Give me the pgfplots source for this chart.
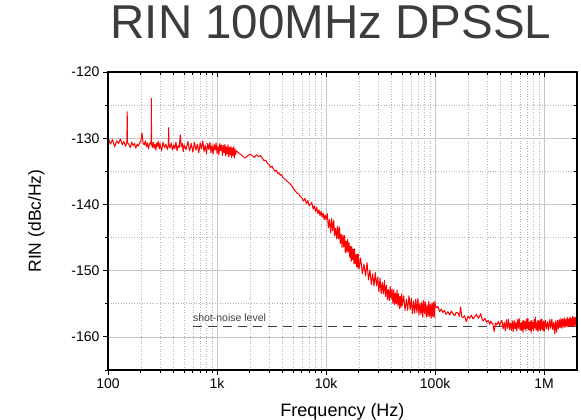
\documentclass[border=0pt]{standalone}
\usepackage{fontspec}
\setmainfont{Liberation Sans}
\usepackage{pgfplots}
\usepackage{pgfplotstable}
\pgfplotsset{compat=1.18}
\definecolor{titlegray}{HTML}{3C3C3C}
\definecolor{gridmaj}{HTML}{C8C8C8}
\definecolor{gridmin}{HTML}{B4B4B4}
\definecolor{dashgray}{HTML}{404040}

\pgfplotstableread{
f db
100 -129.8
105 -130.9
110 -130.2
115 -131.3
120 -130.4
125 -130.8
130 -130.1
135 -131.0
140 -130.5
145 -131.2
149 -130.6
150 -126.0
151 -130.7
155 -130.9
160 -131.4
165 -130.6
170 -131.1
175 -130.8
180 -131.5
185 -130.9
190 -131.2
195 -130.7
200 -130.5
205 -129.2
210 -130.8
215 -131.0
220 -130.4
225 -131.3
230 -130.7
235 -131.6
240 -130.9
245 -130.6
249 -131.0
250 -124.0
251 -130.8
255 -131.4
260 -130.6
265 -131.5
270 -130.9
275 -131.8
280 -130.7
285 -131.2
290 -130.5
295 -131.6
300 -130.8
310 -131.9
320 -130.6
330 -131.4
340 -130.9
350 -131.7
358 -131.0
360 -128.4
362 -130.9
370 -131.5
380 -130.7
390 -131.8
400 -131.0
410 -131.6
420 -130.6
430 -131.9
440 -131.1
450 -131.4
460 -129.5
470 -131.3
480 -130.8
490 -132.0
500 -131.0
520 -131.7
540 -130.5
560 -131.9
580 -130.8
600 -132.1
620 -130.6
640 -131.8
660 -130.9
680 -132.2
700 -130.7
720 -131.6
740 -130.4
760 -132.0
780 -131.1
800 -132.3
820 -130.8
840 -131.7
860 -130.6
880 -132.2
900 -131.0
920 -132.4
940 -130.9
960 -131.8
980 -130.7
1000 -132.3
1020 -131.2
1040 -132.5
1060 -130.8
1080 -131.9
1100 -131.0
1120 -132.6
1140 -131.1
1160 -132.2
1180 -130.9
1200 -132.7
1220 -131.3
1240 -132.4
1260 -131.0
1280 -132.8
1300 -131.4
1320 -132.5
1340 -131.2
1360 -132.9
1380 -131.5
1400 -132.6
1420 -131.3
1440 -133.0
1460 -131.6
1480 -132.5
1500 -131.9
1600 -132.3
1700 -132.6
1800 -133.0
1900 -132.7
2000 -132.4
2100 -132.6
2200 -132.9
2300 -132.5
2400 -132.8
2500 -132.6
2600 -133.0
2700 -133.4
2800 -133.3
2900 -133.8
3000 -134.0
3100 -134.4
3200 -134.2
3300 -134.7
3400 -135.0
3500 -134.8
3600 -135.3
3700 -135.2
3800 -135.6
3900 -135.5
4000 -135.9
4200 -136.2
4400 -136.5
4600 -136.8
4800 -137.1
5000 -137.6
5200 -137.9
5400 -138.3
5600 -138.4
5800 -138.8
6000 -139.0
6200 -139.5
6400 -139.1
6600 -139.9
6800 -139.4
7000 -140.2
7200 -140.0
7400 -139.7
7600 -140.7
7800 -140.2
8000 -141.1
8200 -140.4
8400 -141.4
8600 -140.8
8800 -141.7
9000 -141.0
9200 -141.9
9400 -141.3
9600 -142.3
9800 -141.6
10000 -142.3
10250 -141.4
10500 -143.5
10750 -142.3
11000 -144.3
11250 -142.1
11500 -144.0
11750 -142.4
12000 -144.7
12250 -143.6
12500 -145.2
12750 -143.3
13000 -145.2
13250 -143.4
13500 -145.9
13750 -144.5
14000 -146.5
14250 -144.6
14500 -146.4
14750 -144.7
15000 -147.3
15250 -145.5
15500 -147.2
15750 -145.3
16000 -147.2
16250 -145.8
16500 -148.0
16750 -146.3
17000 -148.6
17250 -146.4
17500 -148.3
17750 -146.8
18000 -149.0
18250 -146.7
18500 -148.9
18750 -147.6
19000 -149.4
19250 -147.5
19500 -149.5
19750 -147.5
20000 -149.8
20750 -148.1
21500 -150.5
22250 -149.0
23000 -150.8
23750 -148.8
24500 -151.4
25250 -149.9
26000 -152.1
26750 -150.5
27500 -152.3
28250 -150.3
29000 -152.3
29750 -151.0
30500 -153.2
31250 -151.1
32000 -153.5
32750 -151.8
33500 -153.5
34250 -151.5
35000 -153.9
35750 -152.2
36500 -154.4
37250 -152.8
38000 -154.5
38750 -152.4
39500 -154.3
40250 -152.8
41000 -155.0
41750 -152.9
42500 -155.1
43250 -153.4
44000 -155.0
44750 -152.9
45500 -155.2
46250 -153.5
47000 -155.7
47750 -153.9
48500 -155.6
49250 -153.5
50000 -155.3
51500 -153.8
53000 -156.0
54500 -154.3
56000 -156.0
57500 -153.8
59000 -155.9
60500 -154.2
62000 -156.5
63500 -154.6
65000 -156.4
66500 -154.3
68000 -156.3
69500 -154.2
71000 -156.7
72500 -154.9
74000 -156.6
75500 -154.7
77000 -157.0
78500 -154.5
80000 -156.5
81500 -154.7
83000 -157.0
84500 -155.2
86000 -156.9
87500 -154.6
89000 -156.9
90500 -155.1
92000 -157.2
93500 -154.9
95000 -156.9
96500 -154.8
98000 -157.1
99500 -154.6
100000 -155.2
103000 -155.6
106000 -155.4
110000 -156.2
114000 -155.8
118000 -156.3
122000 -156.0
126000 -156.6
131000 -156.2
136000 -156.7
141000 -156.1
146000 -156.5
151000 -156.8
156000 -156.3
162000 -156.4
167000 -156.9
171000 -155.5
176000 -157.0
180000 -157.1
186000 -156.8
193000 -157.7
200000 -156.9
207000 -157.2
215000 -156.7
223000 -157.3
231000 -156.9
239000 -156.6
250000 -157.2
262000 -156.5
269000 -157.3
276000 -157.6
286000 -157.2
296000 -157.8
306000 -157.5
317000 -158.1
323000 -157.6
329000 -157.9
338000 -158.0
348000 -159.2
357000 -157.9
366000 -158.2
380000 -157.7
392000 -158.3
400000 -157.8
410000 -157.5
420000 -158.8
430000 -157.8
440000 -159.1
450000 -157.4
460000 -158.7
470000 -157.3
480000 -158.9
490000 -157.9
500000 -159.0
510000 -157.6
520000 -159.2
530000 -157.5
540000 -158.8
550000 -157.8
560000 -159.1
570000 -157.4
580000 -158.7
590000 -157.2
600000 -158.9
610000 -157.9
620000 -159.0
630000 -157.6
640000 -159.3
650000 -157.5
660000 -158.8
670000 -157.7
680000 -159.1
690000 -157.3
700000 -158.7
710000 -157.2
720000 -158.9
730000 -157.8
740000 -159.0
750000 -157.6
760000 -159.4
770000 -157.5
780000 -158.8
790000 -157.8
800000 -159.1
810000 -157.4
820000 -158.6
830000 -157.0
840000 -158.9
850000 -157.9
860000 -159.0
870000 -157.6
880000 -159.2
890000 -157.5
900000 -158.8
910000 -157.7
920000 -159.1
930000 -157.4
940000 -158.7
950000 -157.3
960000 -158.9
970000 -157.8
980000 -159.0
990000 -157.6
1000000 -159.2
1025000 -157.5
1050000 -158.8
1075000 -157.7
1100000 -159.0
1125000 -157.4
1150000 -158.7
1175000 -157.3
1200000 -158.9
1225000 -157.8
1250000 -159.5
1275000 -157.6
1300000 -159.3
1325000 -157.5
1350000 -158.8
1375000 -157.4
1400000 -158.6
1425000 -157.2
1450000 -158.7
1475000 -157.3
1500000 -158.5
1525000 -157.1
1550000 -158.6
1575000 -157.4
1600000 -158.4
1625000 -157.0
1650000 -158.5
1675000 -157.3
1700000 -158.3
1725000 -157.0
1750000 -158.4
1775000 -157.2
1800000 -158.5
1825000 -156.9
1850000 -158.3
1875000 -157.1
1900000 -158.4
1925000 -157.0
1950000 -158.2
1975000 -157.2
2000000 -158.0
}\rindata

\begin{document}
\begin{tikzpicture}
\path[use as bounding box] (-108pt,-50pt) rectangle (473pt,370pt);
\begin{axis}[
    at={(0pt,0pt)}, anchor=south west,
    scale only axis, width=469pt, height=298pt,
    xmode=log, xmin=100, xmax=2000000,
    ymin=-165, ymax=-120,
    xtick={100,1000,10000,100000,1000000},
    ytick={-160,-150,-140,-130,-120},
    minor ytick={-165,-155,-145,-135,-125},
    major tick length=5pt, minor tick length=3pt,
    every tick/.style={black, line width=0.9pt},
    axis line style={black, line width=1.4pt},
    xticklabels={100,1k,10k,100k,1M},
    yticklabels={-160,-150,-140,-130,-120},
    xtick pos=left, ytick pos=left, tick align=outside,
    ticklabel style={font=\fontsize{14}{16}\selectfont, text=black},
    grid=both,
    major grid style={gridmaj, line width=0.7pt},
    minor grid style={gridmin, line width=0.6pt, dotted},
    xlabel={Frequency (Hz)},
    ylabel={RIN (dBc/Hz)},
    xlabel style={at={(axis description cs:0.5,-0.1577)}, anchor=base, font=\fontsize{18}{20}\selectfont},
    ylabel style={at={(axis description cs:-0.1429,0.5)}, anchor=base, font=\fontsize{17.5}{20}\selectfont},
    title={RIN 100MHz DPSSL},
    title style={at={(axis description cs:0.4755,1.0906)}, anchor=base, font=\fontsize{47.5}{52}\selectfont, text=titlegray},
  ]
  \addplot[dashgray, line width=1pt, dash pattern=on 9pt off 6pt] coordinates {(600,-158.4) (2000000,-158.4)};
  \node[anchor=base west, inner sep=0pt, font=\fontsize{10.5}{12}\selectfont, text=dashgray] at (axis cs:600,-157.65) {shot-noise level};
  \addplot[red, line width=1pt, line join=round] table[x=f, y=db] {\rindata};
\end{axis}
\begin{axis}[
    at={(0pt,0pt)}, anchor=south west,
    scale only axis, width=469pt, height=298pt,
    xmode=log, xmin=100, xmax=2000000,
    ymin=-165, ymax=-120,
    xtick={100,1000,10000,100000,1000000},
    ytick={-160,-150,-140,-130,-120},
    minor ytick={-165,-155,-145,-135,-125},
    major tick length=5pt, minor tick length=3pt,
    every tick/.style={black, line width=0.9pt},
    axis line style={black, line width=1.4pt},
    xticklabels={}, yticklabels={},
    xtick pos=right, ytick pos=right, tick align=inside,
  ]
\end{axis}
\end{tikzpicture}
\end{document}
